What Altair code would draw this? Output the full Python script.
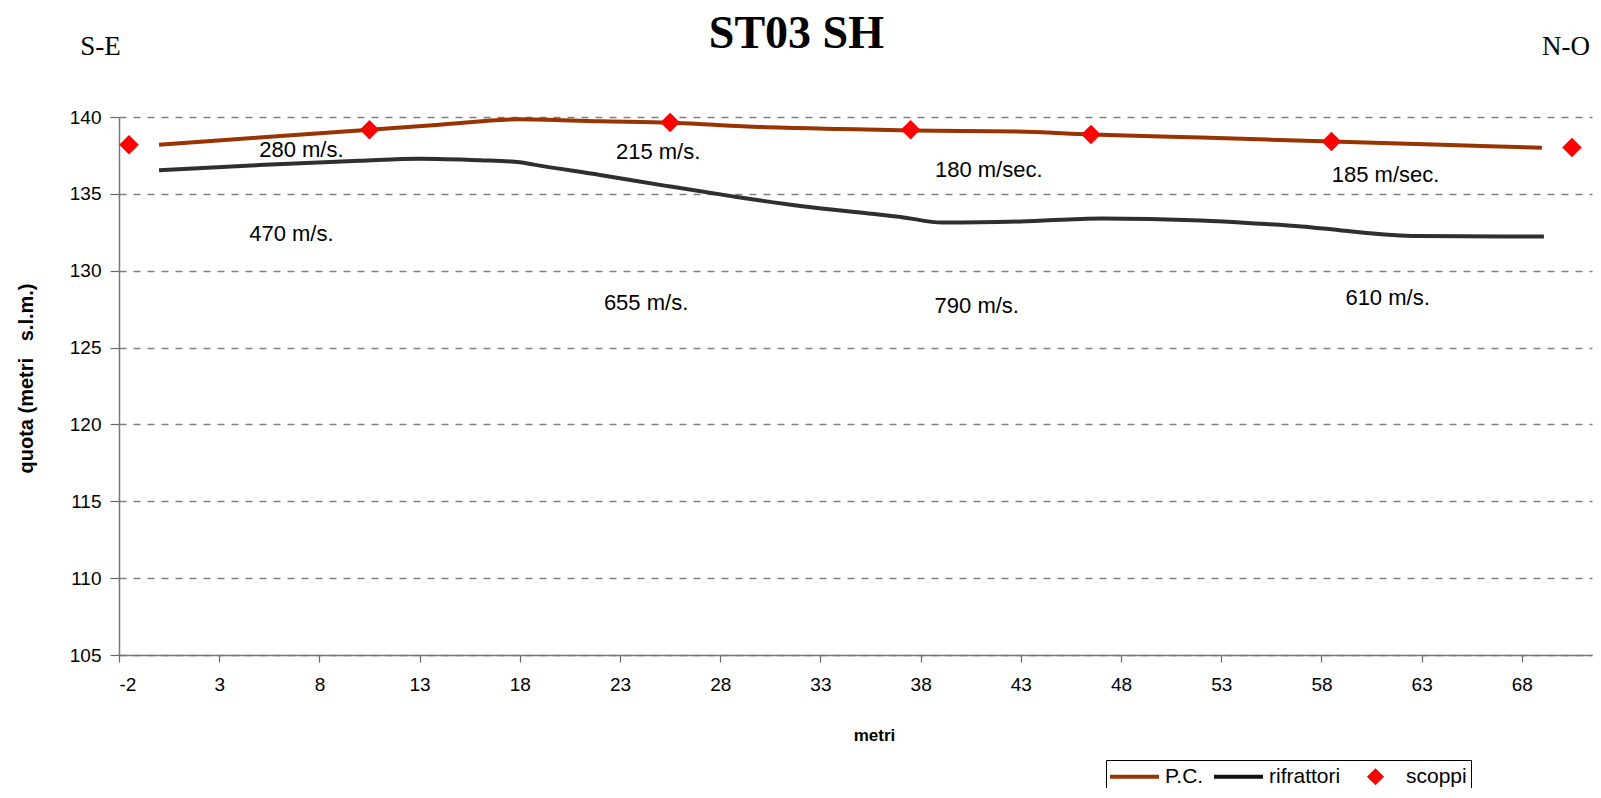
import altair as alt
import pandas as pd

# ---- data ----
pc_x = [0, 5, 10.5, 14, 18, 22, 25.5, 30, 34, 37.5, 42.8, 46.5, 52, 58.5, 64, 69]
pc_y = [138.2, 138.66, 139.17, 139.49, 139.85, 139.72, 139.63, 139.35, 139.22, 139.12,
        139.06, 138.86, 138.66, 138.4, 138.19, 138.0]

rf_x = [0, 5, 10, 13, 16, 18, 18.7, 22, 25.3, 28.7, 32, 35.3, 37, 39.1, 43, 47, 52,
        54.5, 57, 59, 62.8, 69.1]
rf_y = [136.54, 136.87, 137.15, 137.29, 137.19, 137.06, 136.9, 136.23, 135.52, 134.82,
        134.21, 133.74, 133.5, 133.13, 133.2, 133.4, 133.26, 133.09, 132.88, 132.62,
        132.26, 132.22]

scoppi_x = [-1.5, 10.5, 25.5, 37.5, 46.5, 58.5, 70.5]
scoppi_y = [138.2, 139.17, 139.64, 139.17, 138.86, 138.4, 138.01]

vel_text = ["280 m/s.", "215 m/s.", "180 m/sec.", "185 m/sec.",
            "470 m/s.", "655 m/s.", "790 m/s.", "610 m/s."]
vel_x = [7.1, 24.9, 41.4, 61.2, 6.6, 24.3, 40.8, 61.3]
vel_y = [137.86, 137.75, 136.56, 136.23, 132.4, 127.9, 127.7, 128.2]

title_text = ["ST03 SH"]
title_x = [31.8]
title_y = [144.5]

side_text = ["S-E", "N-O"]
side_x = [-2.92, 70.2]
side_y = [144.05, 144.05]

series = ["P.C.", "rifrattori", "scoppi"]
x_ticks = list(range(-2, 69, 5))
y_ticks = list(range(105, 141, 5))

# ---- styles ----
BROWN = "#993300"
DARK = "#2f2f2f"
RED = "#ff0000"
SANS = "Liberation Sans"
SERIF = "Liberation Serif"
LINE_PATH = "M-2,-0.17H2V0.17H-2Z"
DIAMOND_PATH = "M0,-0.7L0.7,0L0,0.7L-0.7,0Z"

lines_df = pd.concat([
    pd.DataFrame({"x": pc_x, "y": pc_y, "serie": series[0]}),
    pd.DataFrame({"x": rf_x, "y": rf_y, "serie": series[1]}),
])
sc_df = pd.DataFrame({"x": scoppi_x, "y": scoppi_y, "serie": series[2]})
vel_df = pd.DataFrame({"x": vel_x, "y": vel_y, "t": vel_text})
title_df = pd.DataFrame({"x": title_x, "y": title_y, "t": title_text})
side_df = pd.DataFrame({"x": side_x, "y": side_y, "t": side_text})

xs = alt.Scale(domain=[-2, 71.5], nice=False, zero=False)
ys = alt.Scale(domain=[105, 140], nice=False, zero=False)

x_axis = alt.Axis(values=x_ticks, title="metri", grid=False,
                  labelExpr="toString(datum.value)",
                  labelFont=SANS, labelFontSize=19, labelColor="black",
                  tickSize=7, tickColor="#666", tickWidth=1.2,
                  domainColor="#777", domainWidth=1.5, labelPadding=13,
                  titleFont=SANS, titleFontSize=17, titleFontWeight="bold",
                  titleColor="black", titleX=755, titleY=80, titleBaseline="middle",
                  titleAnchor="start", titleAlign="center")
y_axis = alt.Axis(values=y_ticks, title="quota (metri\u00a0\u00a0\u00a0s.l.m.)", grid=True,
                  gridDash=[7, 7], gridColor="#808080", gridWidth=1.3,
                  labelFont=SANS, labelFontSize=19, labelColor="black",
                  tickSize=9, tickColor="#666", tickWidth=1.2,
                  domainColor="#777", domainWidth=1.5, labelPadding=9,
                  titleFont=SANS, titleFontSize=20, titleFontWeight="bold",
                  titleColor="black", titleX=-93, titleY=261, titleAngle=270,
                  titleBaseline="middle", titleAlign="center", titleAnchor="start")

X = alt.X("x:Q", scale=xs, axis=x_axis)
Y = alt.Y("y:Q", scale=ys, axis=y_axis)

leg = alt.Legend(orient="none", legendX=987, legendY=643, direction="horizontal",
                 title=None, strokeColor="black", fillColor="white", padding=4,
                 symbolSize=600, symbolStrokeWidth=0, symbolOffset=12,
                 labelFont=SANS, labelFontSize=21, labelColor="black",
                 labelOffset=18, columnPadding=10, symbolOpacity=1)

lines = alt.Chart(lines_df).mark_line(strokeWidth=4, interpolate="monotone").encode(
    x=X, y=Y,
    color=alt.Color("serie:N", scale=alt.Scale(domain=series[:2], range=[BROWN, DARK]),
                    legend=None),
)

points = alt.Chart(sc_df).mark_point(filled=True, opacity=1, size=780, strokeWidth=0).encode(
    x=X, y=Y,
    color=alt.Color("serie:N", scale=alt.Scale(domain=series, range=[BROWN, "#111111", RED]),
                    legend=leg),
    shape=alt.Shape("serie:N", scale=alt.Scale(domain=series,
                                               range=[LINE_PATH, LINE_PATH, DIAMOND_PATH]),
                    legend=leg),
)

vel = alt.Chart(vel_df).mark_text(font=SANS, fontSize=22, color="black",
                                  align="center", baseline="middle").encode(
    x=X, y=Y, text="t:N")

ttl = alt.Chart(title_df).mark_text(font=SERIF, fontSize=46, fontWeight="bold",
                                    color="black", align="center",
                                    baseline="alphabetic").encode(x=X, y=Y, text="t:N")

side = alt.Chart(side_df).mark_text(font=SERIF, fontSize=27, color="black",
                                    align="center", baseline="alphabetic").encode(
    x=X, y=Y, text="t:N")

chart = alt.layer(lines, points, vel, ttl, side).resolve_scale(
    color="independent", shape="independent"
).properties(
    width=1473, height=538,
    autosize=alt.AutoSizeParams(type="none"),
    padding={"left": 111, "top": 109, "right": 1, "bottom": 133},
    background="white",
).configure_view(stroke=None)

chart.save("out.html", embed_options={"renderer": "svg", "actions": False})
